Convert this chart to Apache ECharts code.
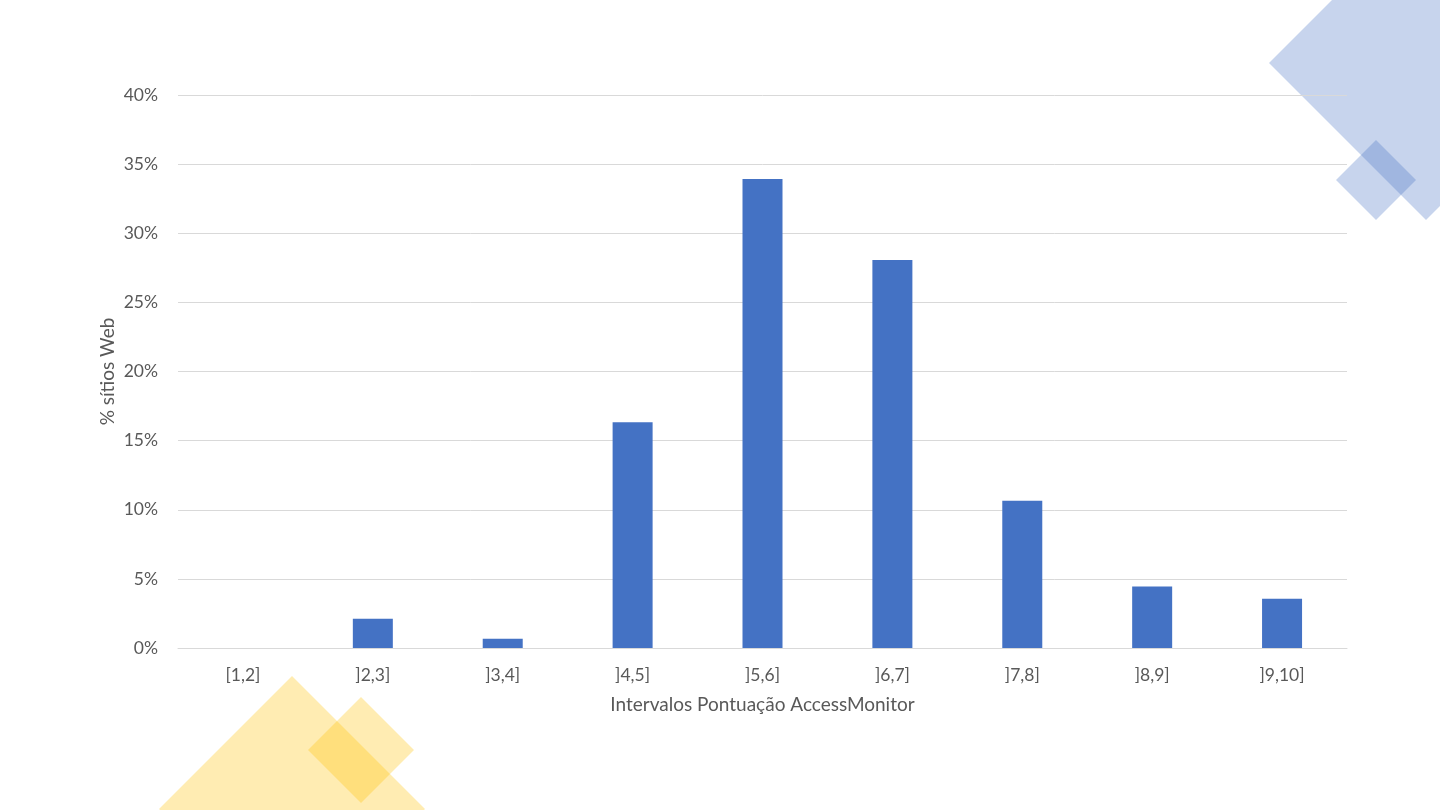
<html>
    <head>
        <meta charset="utf-8">
        <script src="https://cdn.jsdelivr.net/npm/echarts@6/dist/echarts.min.js"></script>
    </head>
    <body>
        <style>
            html, body, #main {
                width: 100%;
                height: 100%;
                margin: 0;
                background: #fff;
            }
        </style>
        <div id="main"></div>
        <script>

        var categories = ['[1,2]', ']2,3]', ']3,4]', ']4,5]', ']5,6]', ']6,7]', ']7,8]', ']8,9]', ']9,10]'];
        var percentSites = [0, 2.12, 0.67, 16.33, 33.93, 28.07, 10.65, 4.44, 3.57];
        var yTicks = [0, 5, 10, 15, 20, 25, 30, 35, 40];

        var xTitle = 'Intervalos Pontuação AccessMonitor';
        var yTitle = '% sítios Web';

        var chart = echarts.init(document.getElementById('main'));

        var textColor = '#595959';
        var font = 'Lato';

        // decorative diamonds (slide background)
        function diamond(cx, cy, r, color) {
            return {
                type: 'polygon',
                silent: true,
                z: -10,
                shape: { points: [[cx, cy - r], [cx + r, cy], [cx, cy + r], [cx - r, cy]] },
                style: { fill: color }
            };
        }
        var blue = 'rgba(68,114,196,0.3)';
        var yellow = 'rgba(255,192,0,0.3)';

        chart.setOption({
            backgroundColor: '#fff',
            textStyle: { fontFamily: font },
            graphic: [
                diamond(1426, 63, 157, blue),
                diamond(1376, 180, 40, blue),
                diamond(292, 809, 133, yellow),
                diamond(361, 750, 53, yellow)
            ],
            grid: {
                left: 178,
                right: 93,
                top: 95,
                bottom: 162
            },
            xAxis: {
                type: 'category',
                data: categories,
                name: xTitle,
                nameLocation: 'middle',
                nameGap: 47,
                nameTextStyle: { color: textColor, fontSize: 19, fontFamily: font },
                axisLine: { lineStyle: { color: '#D9D9D9', width: 1 } },
                axisTick: { show: false },
                axisLabel: { color: textColor, fontSize: 17.5, margin: 18, fontFamily: font }
            },
            yAxis: {
                type: 'value',
                min: yTicks[0],
                max: yTicks[yTicks.length - 1],
                interval: yTicks[1] - yTicks[0],
                name: yTitle,
                nameLocation: 'middle',
                nameGap: 61,
                nameMoveOverlap: false,
                nameTextStyle: { color: textColor, fontSize: 19, fontFamily: font },
                axisLine: { show: false },
                axisTick: { show: false },
                axisLabel: {
                    color: textColor,
                    fontSize: 17.5,
                    margin: 20,
                    fontFamily: font,
                    formatter: '{value}%'
                },
                splitLine: { lineStyle: { color: '#D9D9D9', width: 1 } }
            },
            series: [
                {
                    type: 'bar',
                    data: percentSites,
                    barWidth: 40,
                    itemStyle: { color: '#4472C4' }
                }
            ]
        });

        </script>
    </body>
</html>
